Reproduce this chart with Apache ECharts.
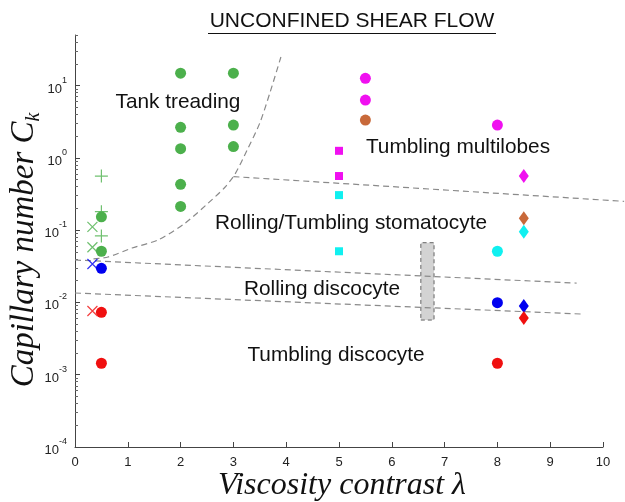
<!DOCTYPE html>
<html><head><meta charset="utf-8">
<script src="https://cdn.jsdelivr.net/npm/echarts@6/dist/echarts.min.js"></script>
<style>html,body{margin:0;padding:0;background:#fff}#c{width:625px;height:502px}</style>
</head><body><div id="c"></div>
<script>
// ---- tick labels ----
const xTicks = [0,1,2,3,4,5,6,7,8,9,10];
const yMajor = [1e-4,1e-3,1e-2,1e-1,1,10];
const yMinor = [];
[1e-4,1e-3,1e-2,1e-1,1,10].forEach(d => { for (let k=2;k<=9;k++){ if (d*k<=50.001) yMinor.push(+(d*k).toPrecision(3)); } });

// ---- data (x = viscosity contrast, y = capillary number) ----
const greenCircle = [[0.5,0.153],[0.5,0.051],[2,14.8],[2,2.64],[2,1.34],[2,0.43],[2,0.213],[3,14.8],[3,2.84],[3,1.43]];
const greenPlus   = [[0.5,0.56],[0.5,0.18],[0.5,0.083]];
const greenCross  = [[0.33,0.111],[0.33,0.058]];
const blueCross   = [[0.33,0.034]];
const blueCircle  = [[0.5,0.0296],[8,0.0099]];
const blueDiamond = [[8.5,0.0089]];
const redCross    = [[0.33,0.0076]];
const redCircle   = [[0.5,0.0073],[0.5,0.00144],[8,0.00144]];
const redDiamond  = [[8.5,0.0061]];
const magentaCircle = [[5.5,12.6],[5.5,6.3],[8,2.84]];
const brownCircle   = [[5.5,3.33]];
const magentaSquare = [[5,1.25],[5,0.56]];
const cyanSquare    = [[5,0.305],[5,0.051]];
const magentaDiamond= [[8.5,0.56]];
const brownDiamond  = [[8.5,0.146]];
const cyanDiamond   = [[8.5,0.095]];
const cyanCircle    = [[8,0.051]];

// boundaries
const tankCurve   = [[0.35,0.040],[0.625,0.0425],[1.08,0.0565],[1.57,0.073],[2.08,0.124],[2.52,0.235],[2.84,0.392],[3.03,0.594],[3.26,1.28],[3.5,3.03],[3.69,7.87],[3.9,24.8]];
const upperLine   = [[0,0.0386],[9.5,0.0185]];
const lowerLine   = [[0,0.0135],[9.6,0.0069]];
const multiLine   = [[3.0,0.55,10.4,0.25]];   // x1, y1, x2, y2
const grayBox     = [[6.55,0.0057],[6.80,0.067]];

const SANS = '"Liberation Sans", Arial, Helvetica, sans-serif';
const SERIF = '"Liberation Serif", "DejaVu Serif", serif';
const GREEN='#4cb04c', BLUE='#0000f0', RED='#f01010', MAG='#f010f0', CYAN='#10f0f0', BROWN='#c8693a';
const PLUS='path://M0,5L10,5M5,0L5,10', CROSS='path://M0,0L10,10M10,0L0,10';
const DASH = {color:'#8a8a8a', width:1.2, type:[6,4]};

function sc(name, data, color, symbol, size, stroke){
  return {name, type:'scatter', data, symbol, symbolSize:size, z:5,
    itemStyle: stroke ? {color:'rgba(0,0,0,0)', borderColor:color, borderWidth:1.2} : {color, opacity:1}};
}
function dash(data, extra){
  return Object.assign({type:'line', data, symbol:'none', silent:true, z:2, lineStyle:DASH}, extra||{});
}
const LBL = '20.8px '+SANS;

const chart = echarts.init(document.getElementById('c'));
chart.setOption({
  animation:false,
  backgroundColor:'#fff',
  grid:{left:75, right:22, top:35, bottom:55},
  xAxis:{type:'value', min:0, max:10, interval:1,
    axisLine:{lineStyle:{color:'#444', width:1}},
    axisTick:{inside:true, length:5, lineStyle:{color:'#444'}},
    axisLabel:{color:'#222', fontSize:13, fontFamily:SANS, margin:9},
    splitLine:{show:false}},
  yAxis:[
    {type:'log', min:1e-4, max:50, logBase:10,
     axisLine:{show:true, lineStyle:{color:'#444', width:1}},
     axisTick:{show:true, inside:true, length:5, customValues:yMajor, lineStyle:{color:'#444'}},
     axisLabel:{customValues:yMajor, margin:8, fontFamily:SANS, color:'#222',
       formatter: v => '{b|10}{e|' + Math.round(Math.log10(v)) + '}',
       rich:{b:{fontSize:13, fontFamily:SANS, color:'#222', verticalAlign:'bottom', lineHeight:20},
             e:{fontSize:9, fontFamily:SANS, color:'#222', verticalAlign:'top', lineHeight:10}}},
     splitLine:{show:false}},
    {type:'log', min:1e-4, max:50, logBase:10, position:'left',
     axisLine:{show:false},
     axisTick:{show:true, inside:true, length:3, customValues:yMinor, lineStyle:{color:'#666'}},
     axisLabel:{show:false}, splitLine:{show:false}}
  ],
  series:[
    dash(tankCurve, {smooth:0.25}),
    dash(upperLine),
    dash(lowerLine),
    {type:'custom', data:multiLine, clip:false, silent:true, z:2,
     encode:{x:[0,2], y:[1,3]},
     renderItem:(params, api) => {
       const p1 = api.coord([api.value(0), api.value(1)]);
       const p2 = api.coord([api.value(2), api.value(3)]);
       return {type:'line', shape:{x1:p1[0], y1:p1[1], x2:p2[0], y2:p2[1]},
               style:{stroke:DASH.color, lineWidth:DASH.width, lineDash:DASH.type, fill:null}};
     }},
    {type:'scatter', data:[], z:4, silent:true,
     markArea:{silent:true, itemStyle:{color:'#d3d3d3', borderColor:'#666', borderWidth:1, borderType:[4,3]},
       data:[[{coord:grayBox[0]},{coord:grayBox[1]}]]}},
    sc('gp', greenPlus, GREEN, PLUS, 13, true),
    sc('gx', greenCross, GREEN, CROSS, 10, true),
    sc('bx', blueCross, BLUE, CROSS, 10, true),
    sc('rx', redCross, RED, CROSS, 10, true),
    sc('gc', greenCircle, GREEN, 'circle', 11),
    sc('bc', blueCircle, BLUE, 'circle', 11),
    sc('rc', redCircle, RED, 'circle', 11),
    sc('mc', magentaCircle, MAG, 'circle', 11),
    sc('brc', brownCircle, BROWN, 'circle', 11),
    sc('cc', cyanCircle, CYAN, 'circle', 11),
    sc('ms', magentaSquare, MAG, 'rect', 8),
    sc('cs', cyanSquare, CYAN, 'rect', 8),
    sc('md', magentaDiamond, MAG, 'diamond', [10,14]),
    sc('brd', brownDiamond, BROWN, 'diamond', [10,14]),
    sc('cd', cyanDiamond, CYAN, 'diamond', [10,14]),
    sc('bd', blueDiamond, BLUE, 'diamond', [10,14]),
    sc('rd', redDiamond, RED, 'diamond', [10,14])
  ],
  graphic:[
    {type:'text', x:352, y:21, style:{text:'UNCONFINED SHEAR FLOW', font:'21px '+SANS, fill:'#111', align:'center', verticalAlign:'middle'}},
    {type:'line', shape:{x1:208, y1:33.5, x2:496, y2:33.5}, style:{stroke:'#111', lineWidth:1.2}},
    {type:'text', x:178, y:102, style:{text:'Tank treading', font:LBL, fill:'#111', align:'center', verticalAlign:'middle'}},
    {type:'text', x:458, y:147, style:{text:'Tumbling multilobes', font:LBL, fill:'#111', align:'center', verticalAlign:'middle'}},
    {type:'text', x:351, y:223, style:{text:'Rolling/Tumbling stomatocyte', font:LBL, fill:'#111', align:'center', verticalAlign:'middle'}},
    {type:'text', x:322, y:289, style:{text:'Rolling discocyte', font:LBL, fill:'#111', align:'center', verticalAlign:'middle'}},
    {type:'text', x:336, y:355, style:{text:'Tumbling discocyte', font:LBL, fill:'#111', align:'center', verticalAlign:'middle'}},
    {type:'text', x:342, y:486, style:{text:'Viscosity contrast λ', font:'italic 32px '+SERIF, fill:'#111', align:'center', verticalAlign:'middle'}},
    {type:'text', x:26, y:250, rotation:Math.PI/2,
     style:{text:'{t|Capillary number C}{s|k}', align:'center', verticalAlign:'middle',
       rich:{t:{font:'italic 33px '+SERIF, fill:'#111', verticalAlign:'top', lineHeight:36},
             s:{font:'italic 20px '+SERIF, fill:'#111', verticalAlign:'bottom', lineHeight:30}}}}
  ]
});
</script></body></html>
